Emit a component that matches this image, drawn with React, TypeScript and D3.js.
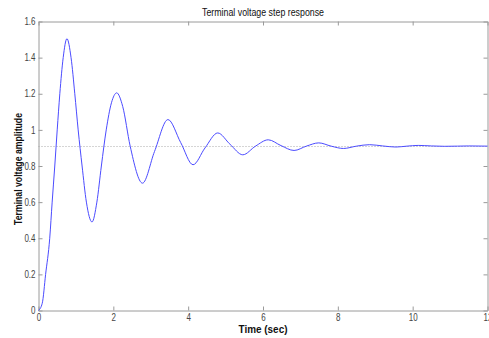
import React, { useEffect, useRef } from "react";
import * as d3 from "d3";

// step response: time (sec) and amplitude
const timeValues = [
  0, 0.1, 0.19, 0.3, 0.365, 0.435, 0.5, 0.57, 0.66, 0.76, 0.87, 0.97, 1.06,
  1.165, 1.28, 1.43, 1.56, 1.68, 1.81, 1.95, 2.09, 2.25, 2.45, 2.78, 3.1,
  3.46, 3.8, 4.13, 4.45, 4.79, 5.12, 5.46, 5.8, 6.14, 6.48, 6.83, 7.16, 7.49,
  7.82, 8.15, 8.5, 8.85, 9.2, 9.55, 9.85, 10.15, 10.5, 10.85, 11.2, 11.5, 12,
];
const amplitudeValues = [
  0, 0.04, 0.2, 0.4, 0.6, 0.8, 1.0, 1.2, 1.4, 1.505, 1.4, 1.2, 1.0, 0.8, 0.6,
  0.49, 0.6, 0.8, 1.0, 1.15, 1.205, 1.13, 0.91, 0.705, 0.88, 1.057, 0.93,
  0.807, 0.9, 0.983, 0.92, 0.862, 0.91, 0.945, 0.913, 0.886, 0.91, 0.928,
  0.91, 0.897, 0.91, 0.918, 0.911, 0.905, 0.91, 0.914, 0.911, 0.909, 0.91,
  0.911, 0.91,
];
const steadyState = 0.91;
const xTicks = [0, 2, 4, 6, 8, 10, 12];
const yTicks = [0, 0.2, 0.4, 0.6, 0.8, 1, 1.2, 1.4, 1.6];

const W = 489;
const H = 338;
const MARGIN = { LEFT: 38, RIGHT: 1, TOP: 21, BOTTOM: 28 };
const FONT = "'Liberation Sans', Arial, sans-serif";
const AXIS_COLOR = "#9a9a9a";
const SQUEEZE = 0.8; // the reference text is narrow

const App = () => {
  const svgRef = useRef<SVGSVGElement>(null);

  useEffect(() => {
    const svg = d3.select(svgRef.current);
    svg.selectAll("*").remove();

    const x = d3
      .scaleLinear()
      .domain([0, 12])
      .range([MARGIN.LEFT + 0.5, W - MARGIN.RIGHT - 0.5]);
    const y = d3
      .scaleLinear()
      .domain([0, 1.6])
      .range([H - MARGIN.BOTTOM + 0.5, MARGIN.TOP + 0.5]);

    const styleAxis = (g, showText) => {
      g.select(".domain").attr("stroke", AXIS_COLOR);
      g.selectAll(".tick line").attr("stroke", AXIS_COLOR);
      g.selectAll(".tick text")
        .attr("fill", "#444")
        .attr("font-family", FONT)
        .attr("font-size", 10)
        .style("display", showText ? null : "none");
    };

    svg
      .append("g")
      .attr("transform", `translate(0,${y(0)})`)
      .call(d3.axisBottom(x).tickValues(xTicks).tickSize(-4).tickSizeOuter(0).tickPadding(3).tickFormat(d3.format("d")))
      .call((g) => styleAxis(g, true))
      .call((g) => g.selectAll(".tick text").attr("transform", `scale(${SQUEEZE},1)`));
    svg
      .append("g")
      .attr("transform", `translate(0,${y(1.6)})`)
      .call(d3.axisTop(x).tickValues(xTicks).tickSize(-4).tickSizeOuter(0))
      .call((g) => styleAxis(g, false));
    svg
      .append("g")
      .attr("transform", `translate(${x(0)},0)`)
      .call(d3.axisLeft(y).tickValues(yTicks).tickSize(-4).tickSizeOuter(0).tickPadding(3).tickFormat((d) => String(+d.toFixed(1))))
      .call((g) => styleAxis(g, true))
      .call((g) =>
        g
          .selectAll(".tick text")
          .attr("x", -3 / SQUEEZE)
          .attr("transform", `scale(${SQUEEZE},1)`)
      );
    svg
      .append("g")
      .attr("transform", `translate(${x(12)},0)`)
      .call(d3.axisRight(y).tickValues(yTicks).tickSize(-4).tickSizeOuter(0))
      .call((g) => styleAxis(g, false));

    // steady-state reference
    svg
      .append("line")
      .attr("x1", x(0))
      .attr("x2", x(12))
      .attr("y1", Math.round(y(steadyState)) + 0.5)
      .attr("y2", Math.round(y(steadyState)) + 0.5)
      .attr("stroke", "#aaa")
      .attr("stroke-dasharray", "1,2");

    const pts = timeValues.map((t, i) => [t, amplitudeValues[i]]);
    const line = d3
      .line()
      .x((d) => x(d[0]))
      .y((d) => y(d[1]))
      .curve(d3.curveMonotoneX);
    svg
      .append("path")
      .datum(pts)
      .attr("d", line)
      .attr("fill", "none")
      .attr("stroke", "#4b4bff")
      .attr("stroke-width", 1);

    const label = (txt, tx, ty, len, bold, rot = 0) =>
      svg
        .append("text")
        .attr("transform", `translate(${tx},${ty}) rotate(${rot})`)
        .attr("text-anchor", "middle")
        .attr("font-family", FONT)
        .attr("font-size", 10)
        .attr("font-weight", bold ? "bold" : "normal")
        .attr("fill", "#111")
        .attr("textLength", len)
        .attr("lengthAdjust", "spacingAndGlyphs")
        .text(txt);

    label("Terminal voltage step response", 263, 16, 122, false);
    label("Time (sec)", 263, 333, 49, true);
    label("Terminal voltage amplitude", 22, 169, 112, true, -90);
  }, []);

  return (
    <svg
      ref={svgRef}
      width={W}
      height={H}
      style={{ position: "absolute", left: 0, top: 0, background: "#fff" }}
    ></svg>
  );
};

export default App;
